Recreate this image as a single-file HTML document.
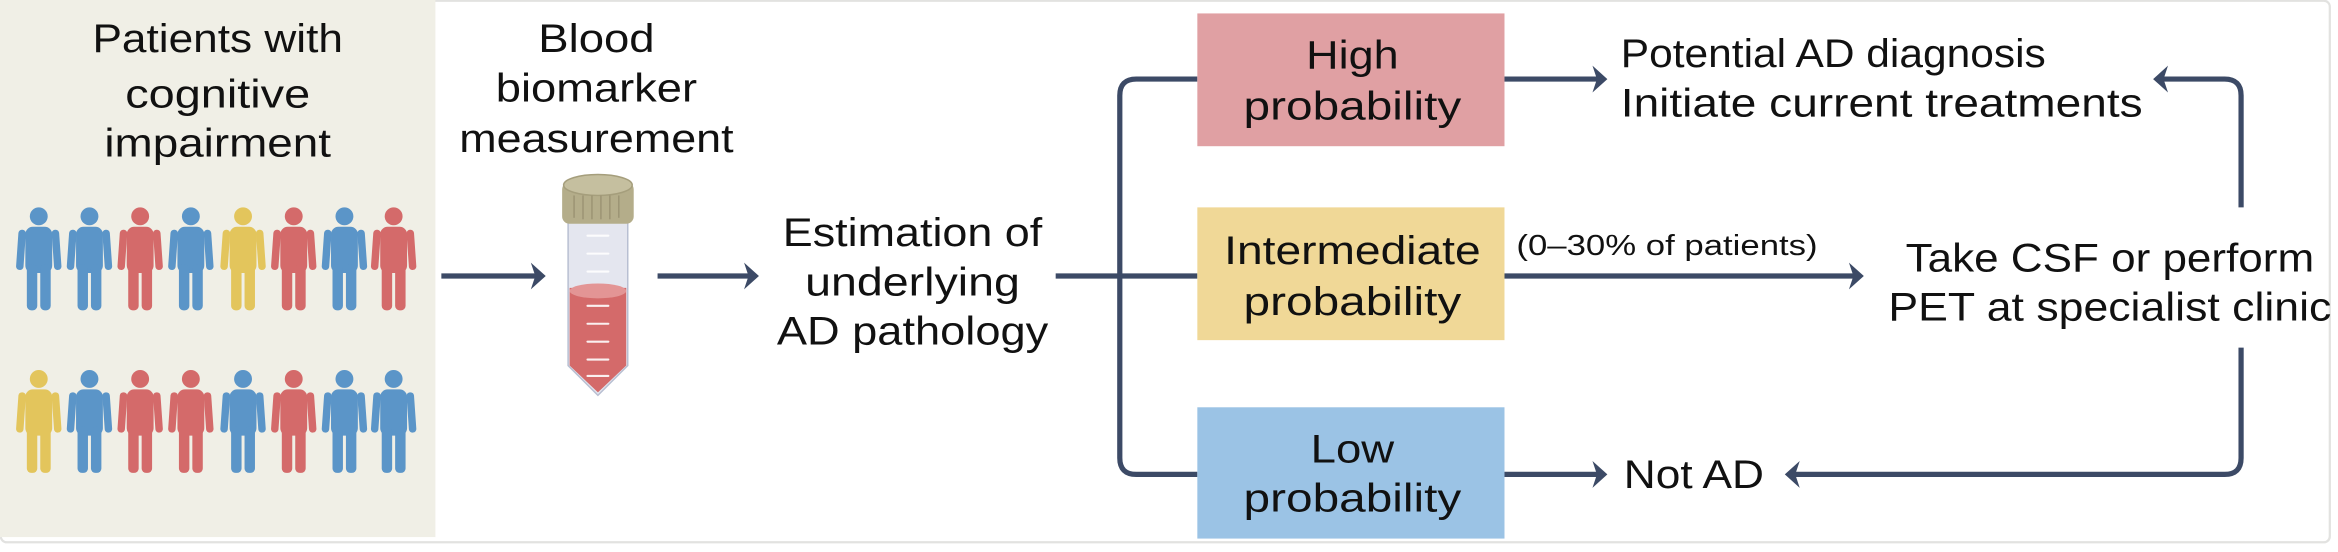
<!DOCTYPE html>
<html><head><meta charset="utf-8"><style>
html,body{margin:0;padding:0;background:#fff;}
svg{display:block;}
text{font-family:"Liberation Sans",sans-serif;fill:#111;}
</style></head><body>
<svg width="2338" height="552" viewBox="0 0 1568 370" preserveAspectRatio="none" xmlns="http://www.w3.org/2000/svg">
<defs>
<symbol id="p" viewBox="-15 0 30 70" overflow="visible">
<circle cx="0" cy="6" r="6"/>
<rect x="-9" y="13" width="18" height="31" rx="5"/>
<rect x="-13.5" y="15" width="5" height="27" rx="2.3" transform="rotate(4 -11 15)"/>
<rect x="8.5" y="15" width="5" height="27" rx="2.3" transform="rotate(-4 11 15)"/>
<rect x="-8" y="38" width="7" height="31" rx="3"/>
<rect x="1" y="38" width="7" height="31" rx="3"/>
</symbol>
</defs>
<rect x="0" y="0" width="1568" height="370" fill="#fff"/>
<rect x="0.5" y="0.5" width="1562" height="363" rx="4" fill="none" stroke="#e2e2e0" stroke-width="1.5"/>
<rect x="0" y="0" width="292" height="360" fill="#f0efe6"/>
<g font-size="27" text-anchor="middle">
<text x="146" y="35" textLength="168" lengthAdjust="spacingAndGlyphs">Patients with</text>
<text x="146" y="72" textLength="124" lengthAdjust="spacingAndGlyphs">cognitive</text>
<text x="146" y="105" textLength="152" lengthAdjust="spacingAndGlyphs">impairment</text>
<text x="400" y="35" textLength="78" lengthAdjust="spacingAndGlyphs">Blood</text>
<text x="400" y="68" textLength="135" lengthAdjust="spacingAndGlyphs">biomarker</text>
<text x="400" y="102" textLength="184" lengthAdjust="spacingAndGlyphs">measurement</text>
<text x="612" y="165" textLength="174" lengthAdjust="spacingAndGlyphs">Estimation of</text>
<text x="612" y="198" textLength="144" lengthAdjust="spacingAndGlyphs">underlying</text>
<text x="612" y="231" textLength="182" lengthAdjust="spacingAndGlyphs">AD pathology</text>
</g>
<!-- people -->
<g>
<use href="#p" x="11" y="139" width="30" height="70" fill="#5b95c8"/>
<use href="#p" x="45" y="139" width="30" height="70" fill="#5b95c8"/>
<use href="#p" x="79" y="139" width="30" height="70" fill="#d46a6a"/>
<use href="#p" x="113" y="139" width="30" height="70" fill="#5b95c8"/>
<use href="#p" x="148" y="139" width="30" height="70" fill="#e3c55c"/>
<use href="#p" x="182" y="139" width="30" height="70" fill="#d46a6a"/>
<use href="#p" x="216" y="139" width="30" height="70" fill="#5b95c8"/>
<use href="#p" x="249" y="139" width="30" height="70" fill="#d46a6a"/>
<use href="#p" x="11" y="248" width="30" height="70" fill="#e3c55c"/>
<use href="#p" x="45" y="248" width="30" height="70" fill="#5b95c8"/>
<use href="#p" x="79" y="248" width="30" height="70" fill="#d46a6a"/>
<use href="#p" x="113" y="248" width="30" height="70" fill="#d46a6a"/>
<use href="#p" x="148" y="248" width="30" height="70" fill="#5b95c8"/>
<use href="#p" x="182" y="248" width="30" height="70" fill="#d46a6a"/>
<use href="#p" x="216" y="248" width="30" height="70" fill="#5b95c8"/>
<use href="#p" x="249" y="248" width="30" height="70" fill="#5b95c8"/>
</g>
<!-- tube -->
<g>
<path d="M381 148 L381 245 L401 265 L421 245 L421 148 Z" fill="#e4e6ef" stroke="#b8bfd2" stroke-width="1"/>
<path d="M382 193 L382 245 L401 263 L420 245 L420 193 Z" fill="#d46a6a"/>
<ellipse cx="401" cy="195" rx="19" ry="5" fill="#e39595"/>
<g stroke="#fff" stroke-width="1.4" stroke-linecap="round" opacity="0.9">
<line x1="394" y1="158" x2="408" y2="158"/><line x1="394" y1="170" x2="408" y2="170"/><line x1="394" y1="182" x2="408" y2="182"/>
<line x1="394" y1="205" x2="408" y2="205"/><line x1="394" y1="217" x2="408" y2="217"/><line x1="394" y1="229" x2="408" y2="229"/><line x1="394" y1="241" x2="408" y2="241"/><line x1="394" y1="252" x2="408" y2="252"/>
</g>
<rect x="377" y="122" width="48" height="28" rx="5" fill="#b4ad8a"/>
<ellipse cx="401" cy="124" rx="23" ry="7" fill="#c5bf9f" stroke="#a59e7c" stroke-width="1"/>
<g stroke="#9c9474" stroke-width="1"><line x1="385" y1="131" x2="385" y2="146"/><line x1="391" y1="131" x2="391" y2="147"/><line x1="397" y1="131" x2="397" y2="147"/><line x1="403" y1="131" x2="403" y2="147"/><line x1="409" y1="131" x2="409" y2="147"/><line x1="415" y1="131" x2="415" y2="146"/></g>
</g>
<!-- connectors -->
<g stroke="#3c4a66" stroke-width="3.5" fill="none">
<line x1="296" y1="185" x2="360" y2="185"/>
<line x1="441" y1="185" x2="503" y2="185"/>
<line x1="708" y1="185" x2="803" y2="185"/>
<path d="M803 53 L762 53 Q751 53 751 64 L751 307 Q751 318 762 318 L803 318"/>
<line x1="1009" y1="53" x2="1072" y2="53"/>
<line x1="1009" y1="185" x2="1244" y2="185"/>
<line x1="1009" y1="318" x2="1072" y2="318"/>
<path d="M1503 139 L1503 64 Q1503 53 1492 53 L1450 53"/>
<path d="M1503 233 L1503 307 Q1503 318 1492 318 L1203 318"/>
</g>
<g fill="#3c4a66">
<path d="M356 176 L366 185 L356 194 L359 185 Z"/>
<path d="M499 176 L509 185 L499 194 L502 185 Z"/>
<path d="M1068 44 L1078 53 L1068 62 L1071 53 Z"/>
<path d="M1240 176 L1250 185 L1240 194 L1243 185 Z"/>
<path d="M1068 309 L1078 318 L1068 327 L1071 318 Z"/>
<path d="M1454 44 L1444 53 L1454 62 L1451 53 Z"/>
<path d="M1207 309 L1197 318 L1207 327 L1204 318 Z"/>
</g>
<!-- boxes -->
<rect x="803" y="9" width="206" height="89" fill="#e0a0a3"/>
<rect x="803" y="139" width="206" height="89" fill="#f0d897"/>
<rect x="803" y="273" width="206" height="88" fill="#9bc3e5"/>
<g font-size="27" text-anchor="middle">
<text x="907" y="46" textLength="62" lengthAdjust="spacingAndGlyphs">High</text>
<text x="907" y="80" textLength="146" lengthAdjust="spacingAndGlyphs">probability</text>
<text x="907" y="177" textLength="172" lengthAdjust="spacingAndGlyphs">Intermediate</text>
<text x="907" y="211" textLength="146" lengthAdjust="spacingAndGlyphs">probability</text>
<text x="907" y="310" textLength="56" lengthAdjust="spacingAndGlyphs">Low</text>
<text x="907" y="343" textLength="146" lengthAdjust="spacingAndGlyphs">probability</text>
<text x="1415" y="182" textLength="274" lengthAdjust="spacingAndGlyphs">Take CSF or perform</text>
<text x="1415" y="215" textLength="297" lengthAdjust="spacingAndGlyphs">PET at specialist clinic</text>
</g>
<g font-size="27">
<text x="1087" y="45" textLength="285" lengthAdjust="spacingAndGlyphs">Potential AD diagnosis</text>
<text x="1087" y="78" textLength="350" lengthAdjust="spacingAndGlyphs">Initiate current treatments</text>
<text x="1089" y="327" textLength="94" lengthAdjust="spacingAndGlyphs">Not AD</text>
</g>
<text x="1017" y="171" font-size="19" textLength="202" lengthAdjust="spacingAndGlyphs">(0–30% of patients)</text>
</svg>
</body></html>
